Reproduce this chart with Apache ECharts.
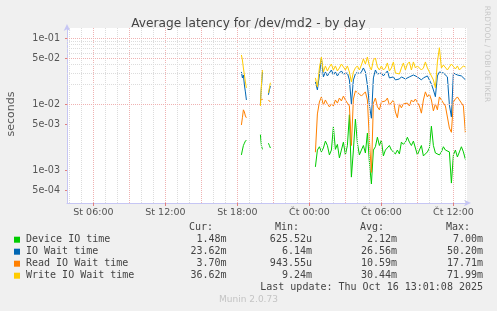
<!DOCTYPE html>
<html><head><meta charset="utf-8">
<script src="https://cdn.jsdelivr.net/npm/echarts@6/dist/echarts.min.js"></script>
<style>html,body{margin:0;padding:0;background:#f0f0f0}#c{width:497px;height:311px}</style>
</head><body><div id="c"></div>
<script>
// ---------- data ----------
const earlyTimes = ['2025-10-15 18:20','2025-10-15 18:25','2025-10-15 18:30','2025-10-15 18:35','2025-10-15 18:40','2025-10-15 18:45','2025-10-15 18:50',
  '2025-10-15 19:55','2025-10-15 20:00','2025-10-15 20:05','2025-10-15 20:20',
  '2025-10-15 20:35','2025-10-15 20:40','2025-10-15 20:45','2025-10-15 20:50'];
const mainStart = '2025-10-16 00:30';   // 10-minute samples from here
const sampleMinutes = 10;

const deviceEarly = [0.00173,0.00205,0.0024,0.0026,0.0028,0.0029,null, 0.0035,0.0024,0.0021,null, 0.0026,0.0024,0.0022,null];
const ioWaitEarly = [0.0310,0.0252,0.0279,0.0197,0.0155,0.0117,null, 0.0102,0.0178,0.0310,null, 0.0140,0.0166,0.0190,null];
const readEarly   = [0.0049,0.0063,0.0083,0.0077,0.0067,0.0063,null, 0.0109,0.0125,0.0117,null, 0.0117,0.0113,0.0109,null];
const writeEarly  = [0.0560,0.0470,0.0356,0.0279,0.0219,0.0178,null, 0.0095,0.0197,0.0332,null, 0.0150,0.0178,0.0213,null];

const deviceMain = [0.00114,0.00205,0.0023,0.00192,0.0022,0.0028,0.0024,0.00173,0.00205,0.0046,
 0.0021,0.0025,0.00156,0.00205,0.0027,0.00173,0.0024,0.0070,0.00080,0.00205,
 0.0060,0.0026,0.00173,0.00205,0.0024,0.00185,0.0037,0.00135,0.00063,0.00205,
 0.0023,0.0032,0.0024,0.0029,0.00167,0.00205,0.00192,0.0024,0.00205,0.00205,
 0.00179,0.00205,0.00179,0.0027,0.0025,0.0027,0.0032,0.0027,0.0024,0.0028,
 0.0022,0.00173,0.00205,0.0024,0.00167,0.00156,0.00192,0.0022,0.0047,0.0024,
 0.00185,0.00192,0.00173,0.00192,0.0023,0.00205,0.00192,0.00192,0.00065,0.00173,
 0.00205,0.00161,0.00192,0.0023,0.00192,0.00148];
const ioWaitMain = [0.0219,0.0166,0.0279,0.0502,0.0261,0.0310,0.0270,0.0289,0.0332,0.0279,
 0.0310,0.0270,0.0299,0.0321,0.0289,0.0270,0.0299,0.0235,0.0102,0.0235,
 0.0289,0.0310,0.0289,0.0310,0.0356,0.0310,0.0197,0.0098,0.0062,0.0252,
 0.0332,0.0289,0.0270,0.0299,0.0270,0.0289,0.0321,0.0252,0.0243,0.0261,
 0.0235,0.0235,0.0243,0.0261,0.0270,0.0243,0.0227,0.0261,0.0252,0.0279,
 0.0270,0.0261,0.0252,0.0235,0.0252,0.0261,0.0270,0.0252,0.0204,0.0166,
 0.0131,0.0270,0.0310,0.0310,0.0299,0.0289,0.0261,0.0098,0.0065,0.0299,
 0.0289,0.0279,0.0261,0.0270,0.0289,0.0236];
const readMain = [0.0019,0.0072,0.0109,0.0130,0.0098,0.0117,0.0102,0.0092,0.0102,0.0095,
 0.0117,0.0105,0.0125,0.0113,0.0134,0.0117,0.0105,0.0095,0.0024,0.0121,
 0.0160,0.0171,0.0144,0.0134,0.0130,0.0155,0.0117,0.0029,0.00094,0.0105,
 0.0125,0.0092,0.0083,0.0109,0.0102,0.0113,0.0125,0.0098,0.0095,0.0117,
 0.0077,0.0063,0.0102,0.0089,0.0102,0.0109,0.0105,0.0095,0.0117,0.0109,
 0.0121,0.0113,0.0095,0.0074,0.0117,0.0155,0.0130,0.0144,0.0117,0.0080,
 0.0102,0.0083,0.0130,0.0117,0.0105,0.0095,0.0092,0.0044,0.0038,0.0109,
 0.0121,0.0130,0.0117,0.0125,0.0095,0.0037];
const writeMain = [0.0252,0.0184,0.0356,0.0520,0.0310,0.0382,0.0321,0.0369,0.0409,0.0332,
 0.0382,0.0321,0.0356,0.0409,0.0369,0.0332,0.0382,0.0310,0.0219,0.0310,
 0.0356,0.0382,0.0332,0.0395,0.0487,0.0409,0.0522,0.0382,0.0332,0.0470,
 0.0504,0.0369,0.0332,0.0382,0.0332,0.0356,0.0424,0.0321,0.0356,0.0439,
 0.0299,0.0310,0.0289,0.0356,0.0424,0.0332,0.0409,0.0439,0.0332,0.0439,
 0.0356,0.0382,0.0409,0.0332,0.0356,0.0439,0.0356,0.0310,0.0270,0.0235,
 0.0178,0.0439,0.0720,0.0356,0.0395,0.0409,0.0332,0.0369,0.0409,0.0424,
 0.0344,0.0382,0.0332,0.0356,0.0382,0.0366];

const xMin = '2025-10-15 03:48', xMax = '2025-10-16 13:08';
const xTickTimes = ['2025-10-15 06:00','2025-10-15 12:00','2025-10-15 18:00','2025-10-16 00:00','2025-10-16 06:00','2025-10-16 12:00'];
const xTickLabels = ['St 06:00','St 12:00','St 18:00','Čt 00:00','Čt 06:00','Čt 12:00'];
const yMin = 3.25e-4, yMax = 0.143;
const yTicks = [1e-1, 5e-2, 1e-2, 5e-3, 1e-3, 5e-4];
const yTickLabels = ['1e-01','5e-02','1e-02','5e-03','1e-03','5e-04'];

const seriesNames = ['Device IO time','IO Wait time','Read IO Wait time','Write IO Wait time'];
const curVals = ['1.48m','23.62m','3.70m','36.62m'];
const minVals = ['625.52u','6.14m','943.55u','9.24m'];
const avgVals = ['2.12m','26.56m','10.59m','30.44m'];
const maxVals = ['7.00m','50.20m','17.71m','71.99m'];
const lastUpdate = 'Last update: Thu Oct 16 13:01:08 2025';

// ---------- build ----------
const colors = ['#00CC00','#0066B3','#FF8000','#FFCC00'];
function ts(s){ return new Date(s.replace(' ','T')+':00').getTime(); }
const mainT0 = ts(mainStart);
function pairs(early, main){
  const out = early.map((v,i)=>[ts(earlyTimes[i]), v]);
  main.forEach((v,i)=>out.push([mainT0 + i*sampleMinutes*60000, v]));
  return out;
}
const seriesData = [pairs(deviceEarly,deviceMain), pairs(ioWaitEarly,ioWaitMain), pairs(readEarly,readMain), pairs(writeEarly,writeMain)];
const xTickMs = xTickTimes.map(ts);

const MAJ = '#efb2b2', MIN = '#dcdcdc';
const gridLines = [];
for (let t = ts('2025-10-15 04:00'); t <= ts(xMax); t += 3600000) {
  const h = new Date(t).getHours();
  gridLines.push({xAxis: t, lineStyle: {color: h % 3 === 0 ? MAJ : MIN, type: [1,1], width: 1}});
}
for (let e = -4; e <= -1; e++) {
  for (let m = 1; m <= 9; m++) {
    const v = m * Math.pow(10, e);
    if (v < yMin || v > yMax) continue;
    gridLines.push({yAxis: v, lineStyle: {color: (m === 1 || m === 5) ? MAJ : MIN, type: [1,1], width: 1}});
  }
}

const font = '"DejaVu Sans", sans-serif';
const mono = '"DejaVu Sans Mono", monospace';
const txtCol = '#444';

const graphic = [
  {type:'text', x: 11.5, y: 114, rotation: Math.PI/2, style:{text:'seconds', font:'11px '+font, fill:'#555', align:'center', verticalAlign:'middle'}},
  {type:'text', x: 487, y: 54, rotation: -Math.PI/2, style:{text:'RRDTOOL / TOBI OETIKER', font:'7.5px '+font, fill:'#c8c8c8', align:'center', verticalAlign:'middle'}},
  {type:'text', x: 213, y: 227.5, style:{text:'Cur:', font:'10px '+mono, fill:txtCol, align:'right', verticalAlign:'middle'}},
  {type:'text', x: 299, y: 227.5, style:{text:'Min:', font:'10px '+mono, fill:txtCol, align:'right', verticalAlign:'middle'}},
  {type:'text', x: 384, y: 227.5, style:{text:'Avg:', font:'10px '+mono, fill:txtCol, align:'right', verticalAlign:'middle'}},
  {type:'text', x: 470, y: 227.5, style:{text:'Max:', font:'10px '+mono, fill:txtCol, align:'right', verticalAlign:'middle'}},
  {type:'text', x: 483, y: 287.7, style:{text:lastUpdate, font:'10px '+mono, fill:txtCol, align:'right', verticalAlign:'middle'}},
  {type:'text', x: 248.5, y: 300, style:{text:'Munin 2.0.73', font:'9px '+font, fill:'#c4c4c4', align:'center', verticalAlign:'middle'}}
];
seriesNames.forEach((n,i)=>{
  const y = 239.7 + i*12;
  graphic.push({type:'rect', shape:{x:14, y:y-3, width:6, height:6}, style:{fill:colors[i]}});
  graphic.push({type:'text', x:26, y:y, style:{text:n, font:'10px '+mono, fill:txtCol, align:'left', verticalAlign:'middle'}});
  [[curVals,226.5],[minVals,312],[avgVals,397],[maxVals,483]].forEach(([arr,x])=>{
    graphic.push({type:'text', x:x, y:y, style:{text:arr[i], font:'10px '+mono, fill:txtCol, align:'right', verticalAlign:'middle'}});
  });
});

const axisCol = '#c6c6f4';
const option = {
  animation: false,
  backgroundColor: '#f0f0f0',
  title: {text:'Average latency for /dev/md2 - by day', left:'center', top:13,
    textStyle:{fontFamily:font, fontSize:12.2, fontWeight:'normal', color:'#444'}},
  grid: {left:67, top:28, width:400, height:175, show:true, backgroundColor:'#ffffff', borderWidth:0},
  xAxis: {
    type:'value', min: ts(xMin), max: ts(xMax), scale:true,
    splitLine:{show:false},
    axisLine:{show:true, lineStyle:{color:axisCol, width:1}, symbol:['none','arrow'], symbolSize:[5,7], symbolOffset:[0,4]},
    axisTick:{show:true, customValues: xTickMs, length:3, lineStyle:{color:'#e08080'}},
    axisLabel:{customValues: xTickMs, margin:5, fontFamily:font, fontSize:9.5, color:'#555',
      formatter: v => { const i = xTickMs.findIndex(t => Math.abs(t - v) < 60000); return i >= 0 ? xTickLabels[i] : ''; }}
  },
  yAxis: {
    type:'log', logBase:10, min:yMin, max:yMax,
    splitLine:{show:false}, minorSplitLine:{show:false},
    axisLine:{show:true, lineStyle:{color:axisCol, width:1}, symbol:['none','arrow'], symbolSize:[5,7], symbolOffset:[0,4]},
    axisTick:{show:true, customValues: yTicks, length:2, lineStyle:{color:'#e08080'}},
    axisLabel:{customValues: yTicks, margin:7, fontFamily:font, fontSize:9.6, color:'#555',
      formatter: v => { const i = yTicks.findIndex(t => Math.abs(Math.log10(t) - Math.log10(v)) < 1e-6); return i >= 0 ? yTickLabels[i] : ''; }}
  },
  graphic: graphic,
  series: [
    {type:'line', name:'grid', data:[], z:1, silent:true,
     markLine:{silent:true, symbol:['none','none'], label:{show:false}, animation:false, data: gridLines}},
  ].concat(seriesNames.map((n,i)=>({
    type:'line', name:n, data: seriesData[i], z: 2+i, showSymbol:false, symbol:'none',
    connectNulls:false, lineStyle:{color:colors[i], width:1}, itemStyle:{color:colors[i]}
  })))
};
echarts.init(document.getElementById('c'), null, {renderer:'canvas'}).setOption(option);
</script></body></html>
